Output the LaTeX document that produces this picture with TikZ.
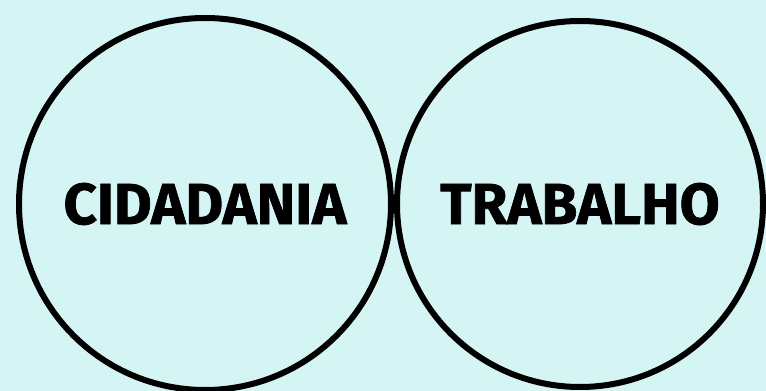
\documentclass[tikz,border=0pt]{standalone}
\usepackage{fontspec}
\newfontfamily\labelfont{Fira Sans}[FakeStretch=1.0, BoldFeatures={FakeBold=1.2}]
\definecolor{bgcyan}{RGB}{213,245,244}
\tikzset{
  ring/.style={circle, draw=black, line width=6pt, inner sep=0pt,
    font=\labelfont\bfseries\fontsize{58}{58}\selectfont}
}
\begin{document}
\begin{tikzpicture}[x=1pt, y=1pt]

        % Background and frame
        \fill[bgcyan] (0,0) rectangle (766,391);
        \useasboundingbox (0,0) rectangle (766,391);

        % Left circle
        \node[ring, minimum size=372pt] (cidadania) at (205,187) {CIDADANIA};

        % Right circle
        \node[ring, minimum size=366pt] (trabalho) at (580,187) {TRABALHO};

    \end{tikzpicture}
\end{document}
